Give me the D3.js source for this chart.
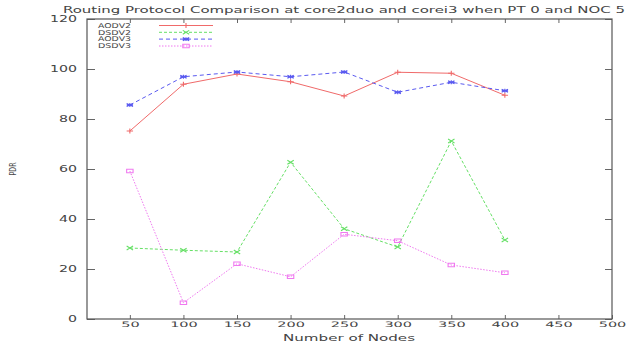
<!DOCTYPE html>
<html>
<head>
<meta charset="utf-8">
<script src="https://cdn.jsdelivr.net/npm/d3@7"></script>
<style>
  html, body { margin: 0; padding: 0; background: #fff; }
  svg { display: block; }
  text { font-family: "DejaVu Sans", Verdana, sans-serif; fill: #444; }
</style>
</head>
<body>
<svg id="chart" width="631" height="345"></svg>
<script>
// Node counts on the x axis
const nodes = [50, 100, 150, 200, 250, 300, 350, 400];

// Packet delivery ratio per protocol
const aodv2 = [75.2, 93.9, 98.0, 94.9, 89.2, 98.7, 98.3, 89.5];
const dsdv2 = [28.4, 27.5, 26.8, 62.7, 36.1, 28.8, 71.2, 31.6];
const aodv3 = [85.6, 96.9, 98.8, 96.9, 98.8, 90.7, 94.7, 91.3];
const dsdv3 = [59.2, 6.5, 22.1, 16.9, 33.9, 31.3, 21.6, 18.5];

const seriesNames = ["AODV2", "DSDV2", "AODV3", "DSDV3"];
const xTicks = [50, 100, 150, 200, 250, 300, 350, 400, 450, 500];
const yTicks = [0, 20, 40, 60, 80, 100, 120];

const titleText = "Routing Protocol Comparison at core2duo and corei3 when PT 0 and NOC 5";
const xTitle = "Number of Nodes";
const yTitle = "PDR";

const series = [
  { name: seriesNames[0], values: aodv2, color: "#f06a6a", dash: null,  marker: "plus" },
  { name: seriesNames[1], values: dsdv2, color: "#66e066", dash: "3,2", marker: "cross" },
  { name: seriesNames[2], values: aodv3, color: "#5a5af0", dash: "4,3", marker: "star" },
  { name: seriesNames[3], values: dsdv3, color: "#f078f0", dash: "1.5,1.5", marker: "square" }
];

const svg = d3.select("#chart");
const plot = { left: 87, right: 612, top: 19, bottom: 319 };

const x = d3.scaleLinear().domain([10, 500]).range([plot.left, plot.right]);
const y = d3.scaleLinear().domain([0, 120]).range([plot.bottom, plot.top]);

// The lettering is wide and short, so glyphs are fitted to a set length
function fit(sel, perChar) {
  sel.each(function () {
    const t = d3.select(this);
    const n = t.text().length;
    t.attr("textLength", n * perChar).attr("lengthAdjust", "spacingAndGlyphs");
  });
}

// Axes with inward ticks on all four sides
const axisColor = "#666";
function styleAxis(g, size) {
  g.select(".domain").remove();
  g.selectAll(".tick line").attr("stroke", axisColor).attr("stroke-width", 1);
  g.selectAll(".tick text").attr("font-size", size).attr("fill", "#555")
    .style("font-family", "DejaVu Sans, sans-serif");
}

const gx = svg.append("g").attr("transform", `translate(0,${plot.bottom})`)
  .call(d3.axisBottom(x).tickValues(xTicks).tickSize(-4).tickPadding(3));
styleAxis(gx, 7.5);
gx.selectAll(".tick text").attr("dy", "0.71em");
fit(gx.selectAll(".tick text"), 9.2);

const gxTop = svg.append("g").attr("transform", `translate(0,${plot.top})`)
  .call(d3.axisTop(x).tickValues(xTicks.filter(v => v < 500)).tickSize(-4).tickFormat(""));
styleAxis(gxTop, 8);

const gy = svg.append("g").attr("transform", `translate(${plot.left},0)`)
  .call(d3.axisLeft(y).tickValues(yTicks).tickSize(-8).tickPadding(10));
styleAxis(gy, 8);
fit(gy.selectAll(".tick text"), 9);

const gyRight = svg.append("g").attr("transform", `translate(${plot.right},0)`)
  .call(d3.axisRight(y).tickValues(yTicks).tickSize(-7).tickFormat(""));
styleAxis(gyRight, 8);

// Plot frame
svg.append("rect")
  .attr("x", plot.left).attr("y", plot.top)
  .attr("width", plot.right - plot.left).attr("height", plot.bottom - plot.top)
  .attr("fill", "none").attr("stroke", "#555").attr("stroke-width", 1.2);

// Marker shapes
function markerPath(kind, s) {
  switch (kind) {
    case "plus":  return `M${-s},0H${s}M0,${-s * 0.8}V${s * 0.8}`;
    case "cross": return `M${-s},${-s * 0.6}L${s},${s * 0.6}M${-s},${s * 0.6}L${s},${-s * 0.6}`;
    case "star":  return `M${-s},0H${s}M0,${-s * 0.6}V${s * 0.6}M${-s},${-s * 0.5}L${s},${s * 0.5}M${-s},${s * 0.5}L${s},${-s * 0.5}`;
    case "square": return `M${-s},${-s * 0.55}H${s}V${s * 0.55}H${-s}Z`;
  }
}

const line = d3.line().x((d, i) => x(nodes[i])).y(d => y(d));

series.forEach(s => {
  svg.append("path")
    .datum(s.values)
    .attr("d", line)
    .attr("fill", "none")
    .attr("stroke", s.color)
    .attr("stroke-width", 1)
    .attr("stroke-dasharray", s.dash);

  svg.append("g").selectAll("path")
    .data(s.values)
    .join("path")
    .attr("transform", (d, i) => `translate(${x(nodes[i])},${y(d)})`)
    .attr("d", markerPath(s.marker, 3.2))
    .attr("fill", "none")
    .attr("stroke", s.color)
    .attr("stroke-width", 1.1);
});

// Legend, top-left inside the frame
const legendRows = [25.5, 32.3, 39.1, 46];
const legend = svg.append("g");
series.forEach((s, i) => {
  const yy = legendRows[i];
  legend.append("text")
    .attr("x", 131).attr("y", yy).attr("dy", "0.35em")
    .attr("text-anchor", "end").attr("font-size", 6.6).attr("fill", "#444")
    .attr("textLength", 33).attr("lengthAdjust", "spacingAndGlyphs")
    .text(s.name);
  legend.append("line")
    .attr("x1", 159).attr("x2", 213).attr("y1", yy).attr("y2", yy)
    .attr("stroke", s.color).attr("stroke-width", 1)
    .attr("stroke-dasharray", s.dash);
  legend.append("path")
    .attr("transform", `translate(186,${yy})`)
    .attr("d", markerPath(s.marker, 3.2))
    .attr("fill", "none").attr("stroke", s.color).attr("stroke-width", 1.1);
});

// Titles
svg.append("text")
  .attr("x", 344).attr("y", 10).attr("dy", "0.35em")
  .attr("text-anchor", "middle").attr("font-size", 9.5).attr("fill", "#444")
  .attr("textLength", 562).attr("lengthAdjust", "spacingAndGlyphs")
  .text(titleText);

svg.append("text")
  .attr("x", 349).attr("y", 338).attr("dy", "0.35em")
  .attr("text-anchor", "middle").attr("font-size", 8).attr("fill", "#444")
  .attr("textLength", 132).attr("lengthAdjust", "spacingAndGlyphs")
  .text(xTitle);

svg.append("text")
  .attr("transform", "translate(13,169) rotate(-90)")
  .attr("dy", "0.35em")
  .attr("text-anchor", "middle").attr("font-size", 8.5).attr("fill", "#444")
  .attr("textLength", 13).attr("lengthAdjust", "spacingAndGlyphs")
  .text(yTitle);
</script>
</body>
</html>
